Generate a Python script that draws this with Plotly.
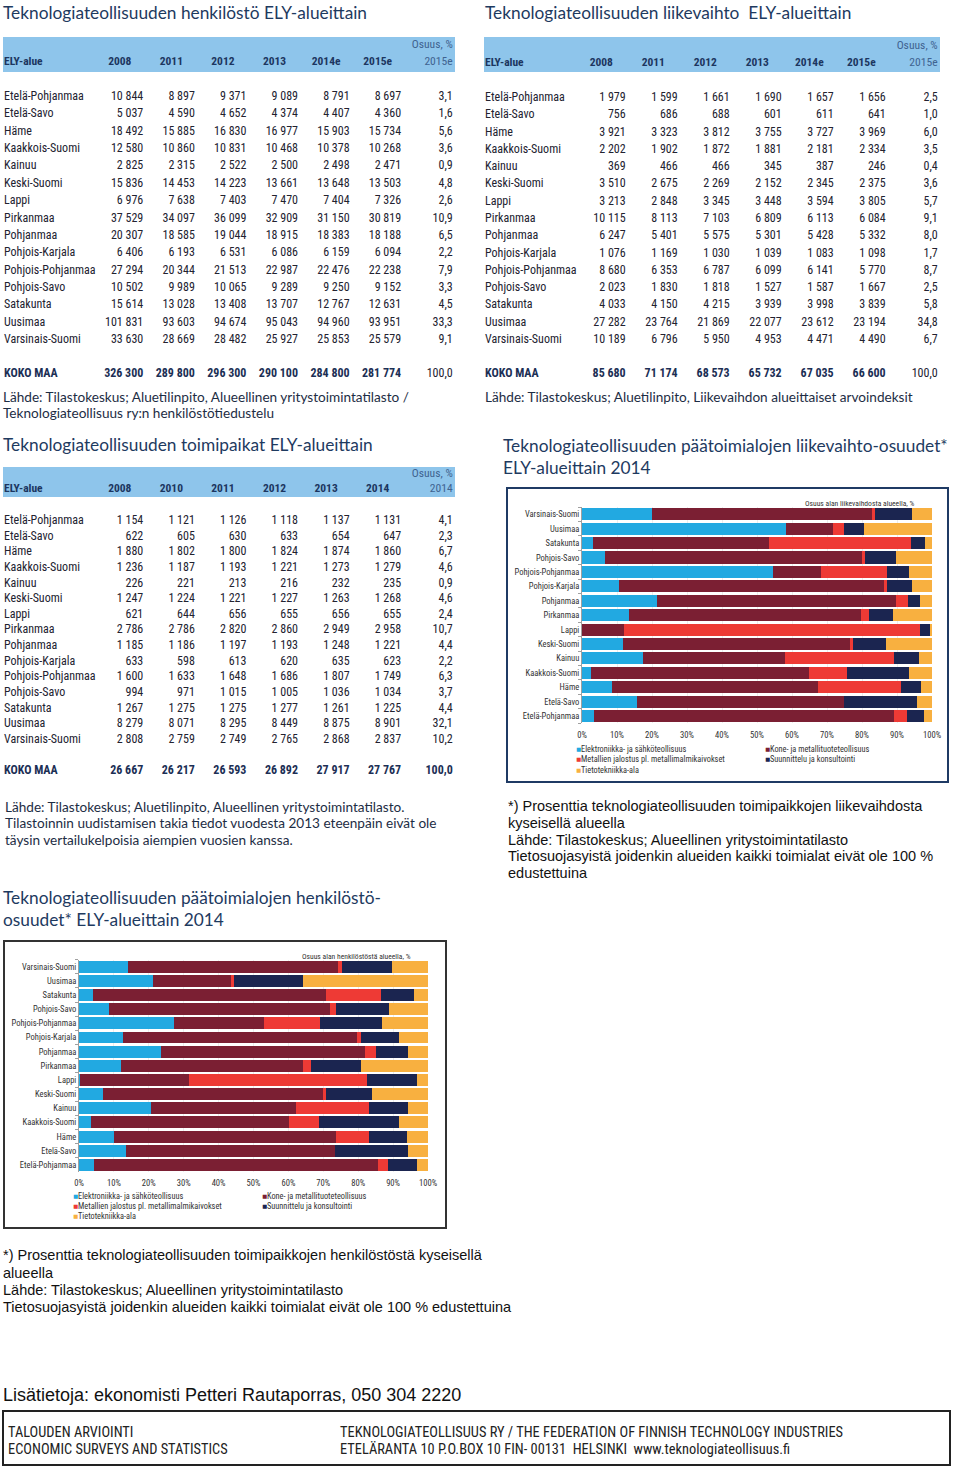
import plotly.graph_objects as go

W, H = 960, 1467

# ---------------- DATA ----------------
regions = ["Etelä-Pohjanmaa", "Etelä-Savo", "Häme", "Kaakkois-Suomi", "Kainuu", "Keski-Suomi",
           "Lappi", "Pirkanmaa", "Pohjanmaa", "Pohjois-Karjala", "Pohjois-Pohjanmaa",
           "Pohjois-Savo", "Satakunta", "Uusimaa", "Varsinais-Suomi"]

# Table 1: henkilöstö
hlo_years = ["2008", "2011", "2012", "2013", "2014e", "2015e"]
hlo_2008 = [10844, 5037, 18492, 12580, 2825, 15836, 6976, 37529, 20307, 6406, 27294, 10502, 15614, 101831, 33630]
hlo_2011 = [8897, 4590, 15885, 10860, 2315, 14453, 7638, 34097, 18585, 6193, 20344, 9989, 13028, 93603, 28669]
hlo_2012 = [9371, 4652, 16830, 10831, 2522, 14223, 7403, 36099, 19044, 6531, 21513, 10065, 13408, 94674, 28482]
hlo_2013 = [9089, 4374, 16977, 10468, 2500, 13661, 7470, 32909, 18915, 6086, 22987, 9289, 13707, 95043, 25927]
hlo_2014 = [8791, 4407, 15903, 10378, 2498, 13648, 7404, 31150, 18383, 6159, 22476, 9250, 12767, 94960, 25853]
hlo_2015 = [8697, 4360, 15734, 10268, 2471, 13503, 7326, 30819, 18188, 6094, 22238, 9152, 12631, 93951, 25579]
hlo_share = [3.1, 1.6, 5.6, 3.6, 0.9, 4.8, 2.6, 10.9, 6.5, 2.2, 7.9, 3.3, 4.5, 33.3, 9.1]
hlo_total = [326300, 289800, 296300, 290100, 284800, 281774]
hlo_total_share = 100.0

# Table 2: liikevaihto
lv_years = ["2008", "2011", "2012", "2013", "2014e", "2015e"]
lv_2008 = [1979, 756, 3921, 2202, 369, 3510, 3213, 10115, 6247, 1076, 8680, 2023, 4033, 27282, 10189]
lv_2011 = [1599, 686, 3323, 1902, 466, 2675, 2848, 8113, 5401, 1169, 6353, 1830, 4150, 23764, 6796]
lv_2012 = [1661, 688, 3812, 1872, 466, 2269, 3345, 7103, 5575, 1030, 6787, 1818, 4215, 21869, 5950]
lv_2013 = [1690, 601, 3755, 1881, 345, 2152, 3448, 6809, 5301, 1039, 6099, 1527, 3939, 22077, 4953]
lv_2014 = [1657, 611, 3727, 2181, 387, 2345, 3594, 6113, 5428, 1083, 6141, 1587, 3998, 23612, 4471]
lv_2015 = [1656, 641, 3969, 2334, 246, 2375, 3805, 6084, 5332, 1098, 5770, 1667, 3839, 23194, 4490]
lv_share = [2.5, 1.0, 6.0, 3.5, 0.4, 3.6, 5.7, 9.1, 8.0, 1.7, 8.7, 2.5, 5.8, 34.8, 6.7]
lv_total = [85680, 71174, 68573, 65732, 67035, 66600]
lv_total_share = 100.0

# Table 3: toimipaikat
tp_years = ["2008", "2010", "2011", "2012", "2013", "2014"]
tp_2008 = [1154, 622, 1880, 1236, 226, 1247, 621, 2786, 1185, 633, 1600, 994, 1267, 8279, 2808]
tp_2010 = [1121, 605, 1802, 1187, 221, 1224, 644, 2786, 1186, 598, 1633, 971, 1275, 8071, 2759]
tp_2011 = [1126, 630, 1800, 1193, 213, 1221, 656, 2820, 1197, 613, 1648, 1015, 1275, 8295, 2749]
tp_2012 = [1118, 633, 1824, 1221, 216, 1227, 655, 2860, 1193, 620, 1686, 1005, 1277, 8449, 2765]
tp_2013 = [1137, 654, 1874, 1273, 232, 1263, 656, 2949, 1248, 635, 1807, 1036, 1261, 8875, 2868]
tp_2014 = [1131, 647, 1860, 1279, 235, 1268, 655, 2958, 1221, 623, 1749, 1034, 1225, 8901, 2837]
tp_share = [4.1, 2.3, 6.7, 4.6, 0.9, 4.6, 2.4, 10.7, 4.4, 2.2, 6.3, 3.7, 4.4, 32.1, 10.2]
tp_total = [26667, 26217, 26593, 26892, 27917, 27767]
tp_total_share = 100.0

# Stacked bars: share of turnover (liikevaihto) 2014, %
series_names = ["Elektroniikka- ja sähköteollisuus", "Kone- ja metallituoteteollisuus",
                "Metallien jalostus pl. metallimalmikaivokset", "Suunnittelu ja konsultointi",
                "Tietotekniikka-ala"]
lv_elek = [3.3, 15.8, 8.6, 2.7, 17.3, 11.8, 0.0, 13.4, 21.4, 10.6, 54.7, 6.6, 3.2, 58.2, 20.0]
lv_kone = [85.9, 59.0, 58.7, 62.2, 40.6, 64.7, 12.0, 66.4, 68.4, 75.6, 13.7, 73.4, 50.3, 13.6, 62.8]
lv_met = [3.7, 0.0, 23.7, 10.7, 31.3, 0.9, 84.6, 2.3, 3.3, 0.9, 18.7, 0.9, 40.5, 3.1, 1.0]
lv_suun = [4.8, 20.8, 5.9, 17.7, 7.2, 9.5, 2.7, 6.7, 3.6, 7.2, 6.4, 8.8, 3.9, 5.8, 10.5]
lv_tiet = [2.3, 4.4, 3.1, 6.7, 3.6, 13.1, 0.7, 11.2, 3.3, 5.7, 6.5, 10.3, 2.1, 19.3, 5.7]

# Stacked bars: share of personnel (henkilöstö) 2014, %
hs_elek = [4.3, 13.6, 10.1, 3.3, 20.7, 6.9, 0.4, 12.0, 23.4, 12.6, 27.1, 8.6, 4.0, 21.1, 14.1]
hs_kone = [81.4, 59.8, 63.6, 56.8, 41.5, 62.9, 31.1, 52.2, 58.5, 67.0, 26.0, 63.4, 66.8, 22.4, 60.2]
hs_met = [2.8, 0.0, 9.3, 8.7, 21.0, 0.9, 50.9, 2.2, 3.2, 1.2, 16.0, 1.6, 15.8, 1.0, 1.0]
hs_suun = [8.3, 20.9, 11.0, 22.8, 11.1, 13.2, 14.4, 14.4, 9.3, 10.8, 17.8, 15.2, 9.3, 19.6, 14.4]
hs_tiet = [3.2, 5.7, 6.0, 8.4, 5.7, 16.1, 3.2, 19.2, 5.6, 8.4, 13.1, 11.2, 4.1, 35.9, 10.3]

pct_ticks = list(range(0, 101, 10))
pct_labels = [f"{v}%" for v in pct_ticks]

# ---------------- STYLE ----------------
SANS = "Liberation Sans, Arial, sans-serif"
NARROW = "Roboto Condensed, Liberation Sans, sans-serif"
TITLEF = "Lato, Noto Sans, sans-serif"
HDR_FILL = "#8EC5EB"
HDR_TXT = "#1C3660"
OSUUS_TXT = "#3F6390"
BODY_TXT = "#222230"
TOTAL_TXT = "#1C2F55"
TITLE_TXT = "#1E3A5F"
SRC_TXT = "#1D2D44"
BAR_COLORS = ["#22A9E1", "#7B1F33", "#EE3A35", "#1B2550", "#F8B040"]
TFS = 12       # table font size
TTL = 17.3     # title font size
SRCS = 13.6    # source font size
NOTE = 14.5    # footnote font size


def fmt_int(v):
    return f"{v:,}".replace(",", " ")


def fmt_pct(v):
    return f"{v:.1f}".replace(".", ",")


fig = go.Figure()
annotations = []
shapes = []


def note(x, y, text, size, color, family, xanchor="left"):
    annotations.append(dict(x=x, y=y, xref="x", yref="y", text=text, showarrow=False,
                            xanchor=xanchor, yanchor="middle", align="left",
                            font=dict(size=size, color=color, family=family)))


def text_trace(xs, ys, texts, pos, size, color, family=NARROW):
    fig.add_trace(go.Scatter(x=xs, y=ys, text=texts, mode="text", textposition=pos,
                             textfont=dict(family=family, size=size, color=color),
                             hoverinfo="skip", showlegend=False, xaxis="x", yaxis="y",
                             cliponaxis=False))


def table(x_name, x_right0, step, hdr_dx, band, hdr_y1, hdr_y2, row0, row_h, total_y,
          years, columns, shares, totals, total_share, share_year, share_bold):
    shapes.append(dict(type="rect", xref="x", yref="y", x0=band[0], x1=band[1], y0=band[2],
                       y1=band[3], fillcolor=HDR_FILL, line_width=0, layer="below"))
    n = len(regions)
    col_right = [x_right0 + step * j for j in range(len(columns) + 1)]
    ys = [row0 + i * row_h for i in range(n)]
    text_trace([x_name] * n, ys, regions, "middle right", TFS, BODY_TXT)
    for j, col in enumerate(columns):
        text_trace([col_right[j]] * n, ys, [fmt_int(v) for v in col], "middle left", TFS, BODY_TXT)
    text_trace([col_right[-1]] * n, ys, [fmt_pct(s) for s in shares], "middle left", TFS, BODY_TXT)
    # totals row
    tot_txt = ["<b>KOKO MAA</b>"] + ["<b>" + fmt_int(v) + "</b>" for v in totals]
    tot_x = [x_name] + col_right[:-1]
    text_trace(tot_x, [total_y] * len(tot_x), tot_txt,
               ["middle right"] + ["middle left"] * len(totals), TFS, TOTAL_TXT)
    st = fmt_pct(total_share)
    text_trace([col_right[-1]], [total_y], ["<b>" + st + "</b>" if share_bold else st],
               "middle left", TFS, TOTAL_TXT if share_bold else BODY_TXT)
    # header
    hx = [x_name] + [c - hdr_dx for c in col_right[:-1]]
    htxt = ["<b>ELY-alue</b>"] + ["<b>" + y + "</b>" for y in years]
    text_trace(hx, [hdr_y2] * len(hx), htxt, ["middle right"] + ["middle center"] * len(years),
               11.5, HDR_TXT)
    text_trace([col_right[-1], col_right[-1]], [hdr_y1, hdr_y2], ["Osuus, %", share_year],
               "middle left", 11.6, OSUUS_TXT)


# Table 1
note(1, 12, "Teknologiateollisuuden henkilöstö ELY-alueittain", TTL, TITLE_TXT, TITLEF)
table(4, 143.3, 51.57, 23.5, (3, 455, 37, 72), 45, 62, 97, 17.36, 374, hlo_years,
      [hlo_2008, hlo_2011, hlo_2012, hlo_2013, hlo_2014, hlo_2015], hlo_share, hlo_total,
      hlo_total_share, "2015e", False)
note(1, 397, "Lähde: Tilastokeskus; Aluetilinpito, Alueellinen yritystoimintatilasto /", SRCS, SRC_TXT, TITLEF)
note(1, 413, "Teknologiateollisuus ry:n henkilöstötiedustelu", SRCS, SRC_TXT, TITLEF)

# Table 2
note(483, 12, "Teknologiateollisuuden liikevaihto  ELY-alueittain", TTL, TITLE_TXT, TITLEF)
table(485, 625.7, 52.0, 24.4, (484, 940, 37, 72), 46, 63, 98, 17.29, 374, lv_years,
      [lv_2008, lv_2011, lv_2012, lv_2013, lv_2014, lv_2015], lv_share, lv_total,
      lv_total_share, "2015e", False)
note(483, 397, "Lähde: Tilastokeskus; Aluetilinpito, Liikevaihdon alueittaiset arvoindeksit", SRCS, SRC_TXT, TITLEF)

# Table 3
note(1, 444, "Teknologiateollisuuden toimipaikat ELY-alueittain", TTL, TITLE_TXT, TITLEF)
table(4, 143.3, 51.57, 23.5, (3, 455, 467, 497), 474, 489, 521, 15.64, 771, tp_years,
      [tp_2008, tp_2010, tp_2011, tp_2012, tp_2013, tp_2014], tp_share, tp_total,
      tp_total_share, "2014", True)
note(3, 807, "Lähde: Tilastokeskus; Aluetilinpito, Alueellinen yritystoimintatilasto.", SRCS, SRC_TXT, TITLEF)
note(3, 823, "Tilastoinnin uudistamisen takia tiedot vuodesta 2013 eteenpäin eivät ole", SRCS, SRC_TXT, TITLEF)
note(3, 840, "täysin vertailukelpoisia aiempien vuosien kanssa.", SRCS, SRC_TXT, TITLEF)

# ---------------- BAR CHARTS ----------------
lv_data = [lv_elek, lv_kone, lv_met, lv_suun, lv_tiet]
hs_data = [hs_elek, hs_kone, hs_met, hs_suun, hs_tiet]
for name, color, vals in zip(series_names, BAR_COLORS, lv_data):
    fig.add_trace(go.Bar(y=regions, x=vals, orientation="h", name=name, xaxis="x2", yaxis="y2",
                         marker=dict(color=color, line_width=0), showlegend=False))
for name, color, vals in zip(series_names, BAR_COLORS, hs_data):
    fig.add_trace(go.Bar(y=regions, x=vals, orientation="h", name=name, xaxis="x3", yaxis="y3",
                         marker=dict(color=color, line_width=0), showlegend=False))

note(501, 445, "Teknologiateollisuuden päätoimialojen liikevaihto-osuudet*", TTL, TITLE_TXT, TITLEF)
note(501, 467, "ELY-alueittain 2014", TTL, TITLE_TXT, TITLEF)
shapes.append(dict(type="rect", xref="x", yref="y", x0=507, x1=948, y0=488, y1=782,
                   line=dict(color="#1F3A64", width=2)))
note(917, 503, "Osuus alan liikevaihdosta alueella, %", 7.6, "#333333", NARROW, xanchor="right")

note(1, 897, "Teknologiateollisuuden päätoimialojen henkilöstö-", TTL, TITLE_TXT, TITLEF)
note(1, 919, "osuudet* ELY-alueittain 2014", TTL, TITLE_TXT, TITLEF)
shapes.append(dict(type="rect", xref="x", yref="y", x0=4, x1=446, y0=941, y1=1228,
                   line=dict(color="#333333", width=2)))
note(413, 956, "Osuus alan henkilöstöstä alueella, %", 7.6, "#333333", NARROW, xanchor="right")


def legend_block(x1, x2, ys):
    pos = [(x1, ys[0]), (x2, ys[0]), (x1, ys[1]), (x2, ys[1]), (x1, ys[2])]
    for (x, y), name, color in zip(pos, series_names, BAR_COLORS):
        note(x, y, f"<span style='color:{color}'>■</span>{name}", 8.3, "#333333", NARROW)


legend_block(574, 763, [749, 759, 769.5])
legend_block(71, 260, [1195.5, 1205.5, 1215.5])

# right footnotes
for y, t in zip([806, 823, 840, 856, 873],
                ["*) Prosenttia teknologiateollisuuden toimipaikkojen liikevaihdosta",
                 "kyseisellä alueella",
                 "Lähde: Tilastokeskus; Alueellinen yritystoimintatilasto",
                 "Tietosuojasyistä joidenkin alueiden kaikki toimialat eivät ole 100 %",
                 "edustettuina"]):
    note(506, y, t, NOTE, "#111111", SANS)

for y, t in zip([1255, 1273, 1290, 1307],
                ["*) Prosenttia teknologiateollisuuden toimipaikkojen henkilöstöstä kyseisellä",
                 "alueella",
                 "Lähde: Tilastokeskus; Alueellinen yritystoimintatilasto",
                 "Tietosuojasyistä joidenkin alueiden kaikki toimialat eivät ole 100 % edustettuina"]):
    note(1, y, t, NOTE, "#111111", SANS)

note(1, 1395, "Lisätietoja: ekonomisti Petteri Rautaporras, 050 304 2220", 18, "#111111", SANS)
shapes.append(dict(type="rect", xref="x", yref="y", x0=3, x1=950, y0=1411, y1=1465,
                   line=dict(color="#222222", width=2)))
note(6, 1432, "TALOUDEN ARVIOINTI", 14.4, "#222222", NARROW)
note(6, 1449, "ECONOMIC SURVEYS AND STATISTICS", 14.4, "#222222", NARROW)
note(338, 1432, "TEKNOLOGIATEOLLISUUS RY / THE FEDERATION OF FINNISH TECHNOLOGY INDUSTRIES", 14.4, "#222222", NARROW)
note(338, 1449, "ETELÄRANTA 10 P.O.BOX 10 FIN- 00131  HELSINKI  www.teknologiateollisuus.fi", 14.4, "#222222", NARROW)


def bar_axes(xd, yd, ya, xa_name):
    xa = dict(domain=xd, range=[0, 100], tickmode="array", tickvals=pct_ticks, ticktext=pct_labels,
              showgrid=True, gridcolor="#EDEDED", zeroline=False, showline=False,
              ticks="outside", ticklen=3, tickcolor="rgba(0,0,0,0)", anchor=ya, automargin=False,
              tickfont=dict(family=NARROW, size=8.6, color="#333333"), fixedrange=True)
    yax = dict(domain=yd, anchor=xa_name, showline=True, linecolor="#A0A0A0", ticks="outside",
               ticklen=3, tickcolor="#A0A0A0", tickson="boundaries", showgrid=False,
               categoryorder="array", categoryarray=regions, automargin=False,
               tickfont=dict(family=NARROW, size=8.5, color="#333333"), fixedrange=True)
    return xa, yax


xa2, ya2 = bar_axes([582 / W, 932 / W], [1 - 723.2 / H, 1 - 507.1 / H], "y2", "x2")
xa3, ya3 = bar_axes([79 / W, 428 / W], [1 - 1172 / H, 1 - 959.6 / H], "y3", "x3")

fig.update_layout(
    width=W, height=H, margin=dict(l=0, r=0, t=0, b=0, autoexpand=False),
    paper_bgcolor="white", plot_bgcolor="white",
    barmode="stack", bargap=0.16, showlegend=False,
    xaxis=dict(domain=[0, 1], range=[0, W], visible=False, fixedrange=True, automargin=False),
    yaxis=dict(domain=[0, 1], range=[H, 0], visible=False, fixedrange=True, automargin=False),
    xaxis2=xa2, yaxis2=ya2, xaxis3=xa3, yaxis3=ya3,
    annotations=annotations, shapes=shapes,
)

fig.write_html("out.html", config={"displayModeBar": False},
               post_script="document.body.style.margin='0px';")
